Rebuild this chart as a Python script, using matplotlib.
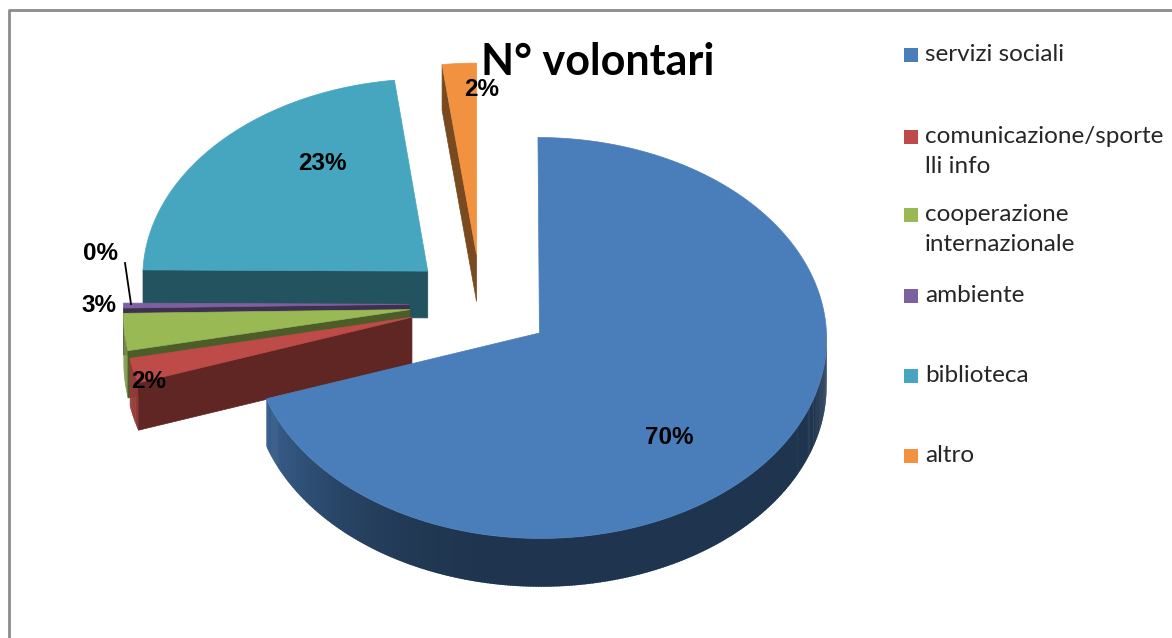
import numpy as np
import matplotlib.pyplot as plt
from matplotlib.patches import Polygon, Rectangle
from matplotlib.colors import to_rgb

# ================= DATA =================
categories = ["servizi sociali", "comunicazione/sporte\nlli info", "cooperazione\ninternazionale",
              "ambiente", "biblioteca", "altro"]
values = [70, 2, 3, 0.4, 23, 2]
colors = ["#4A7EBB", "#BE4B48", "#98B954", "#7D60A0", "#47A6BF", "#F29140"]
title = "N° volontari"

# ================= LAYOUT (pixels) =================
W, H = 1172, 638
cx, cy = 481, 304          # pie centre before explosion
rx, ry = 286, 199          # ellipse radii of the top face
depth = 47
explode = 0.25
persp = 0.025              # far things a little smaller

# label anchors (centre of text) for each slice
label_pos = [(669, 438), (149, 382), (99, 305), (101, 254), (322, 164), (482, 90)]


def shade(c, f):
    r, g, b = to_rgb(c)
    return (r * f, g * f, b * f)


def proj(X, Y, z=0.0):
    # plane coords (units of radius) -> screen pixels
    s = 1 - persp * Y
    return cx + s * X * rx, cy - s * Y * ry + z * s


fig = plt.figure(figsize=(W / 100, H / 100), dpi=100)
ax = fig.add_axes([0, 0, 1, 1])
ax.set_xlim(0, W)
ax.set_ylim(H, 0)
ax.axis("off")

total = sum(values)
fracs = [v / total for v in values]

# slice angles (math convention, start at 12 o'clock, clockwise)
slices = []
cum = 0.0
for i, f in enumerate(fracs):
    a1 = np.radians(90 - (cum + f) * 360)
    a2 = np.radians(90 - cum * 360)
    cum += f
    mid = (a1 + a2) / 2
    ox, oy = explode * np.cos(mid), explode * np.sin(mid)
    slices.append((i, a1, a2, mid, ox, oy))

# back slices first
order = sorted(slices, key=lambda s: -np.sin(s[3]))

for i, a1, a2, mid, ox, oy in order:
    col = colors[i]
    n = max(int(np.degrees(a2 - a1)) * 2, 2)
    ts = np.linspace(a1, a2, n)
    step = ts[1] - ts[0]

    # outer wall (front half only), strips overlap a bit to hide seams
    for k in range(len(ts) - 1):
        t0, t1 = ts[k], min(ts[k + 1] + step * 0.6, a2)
        tm = (ts[k] + ts[k + 1]) / 2
        if np.sin(tm) >= 0:
            continue
        f = 0.42 + 0.4 * max(0.0, -np.cos(tm)) ** 3
        p0 = proj(ox + np.cos(t0), oy + np.sin(t0))
        p1 = proj(ox + np.cos(t1), oy + np.sin(t1))
        q1 = proj(ox + np.cos(t1), oy + np.sin(t1), depth)
        q0 = proj(ox + np.cos(t0), oy + np.sin(t0), depth)
        c = shade(col, f)
        ax.add_patch(Polygon([p0, p1, q1, q0], closed=True, facecolor=c, edgecolor="none", lw=0))

    # radial faces
    for t, vis in ((a1, np.cos(a1) > 1e-6), (a2, np.cos(a2) < -1e-6)):
        if vis:
            c = shade(col, 0.5)
            pts = [proj(ox, oy), proj(ox + np.cos(t), oy + np.sin(t)),
                   proj(ox + np.cos(t), oy + np.sin(t), depth), proj(ox, oy, depth)]
            ax.add_patch(Polygon(pts, closed=True, facecolor=c, edgecolor=c, lw=0.5))

    # top face
    pts = [proj(ox, oy)] + [proj(ox + np.cos(t), oy + np.sin(t)) for t in ts]
    ax.add_patch(Polygon(pts, closed=True, facecolor=col, edgecolor=col, lw=0.5))

# percentage labels
for i, (lx, ly) in enumerate(label_pos):
    ax.text(lx, ly, f"{round(fracs[i] * 100)}%", ha="center", va="center",
            fontsize=17.5, fontweight="bold", family="Liberation Sans", color="black")

# leader line for the tiny slice
ax.plot([125, 131], [263, 304], color="black", lw=1.3)

# title
ax.text(598, 62, title, ha="center", va="center", fontsize=31, fontweight="bold",
        family="Lato", color="black")

# legend (square next to the first line of each entry)
leg_y = [55, 137, 215, 296, 376, 456]
for i, name in enumerate(categories):
    ax.add_patch(Rectangle((904, leg_y[i] - 7), 14, 14, facecolor=colors[i], edgecolor="none"))
    for j, line in enumerate(name.split("\n")):
        ax.text(925, leg_y[i] + 6 + j * 30, line, ha="left", va="baseline", fontsize=17.5,
                family="Lato", color="#262626")

# chart border (only top and left edges visible)
ax.plot([8, W], [9.5, 9.5], color="#8C8C8C", lw=2, solid_capstyle="butt")
ax.plot([8.5, 8.5], [9.5, H], color="#8C8C8C", lw=2, solid_capstyle="butt")

fig.savefig("out.png", dpi=100)
